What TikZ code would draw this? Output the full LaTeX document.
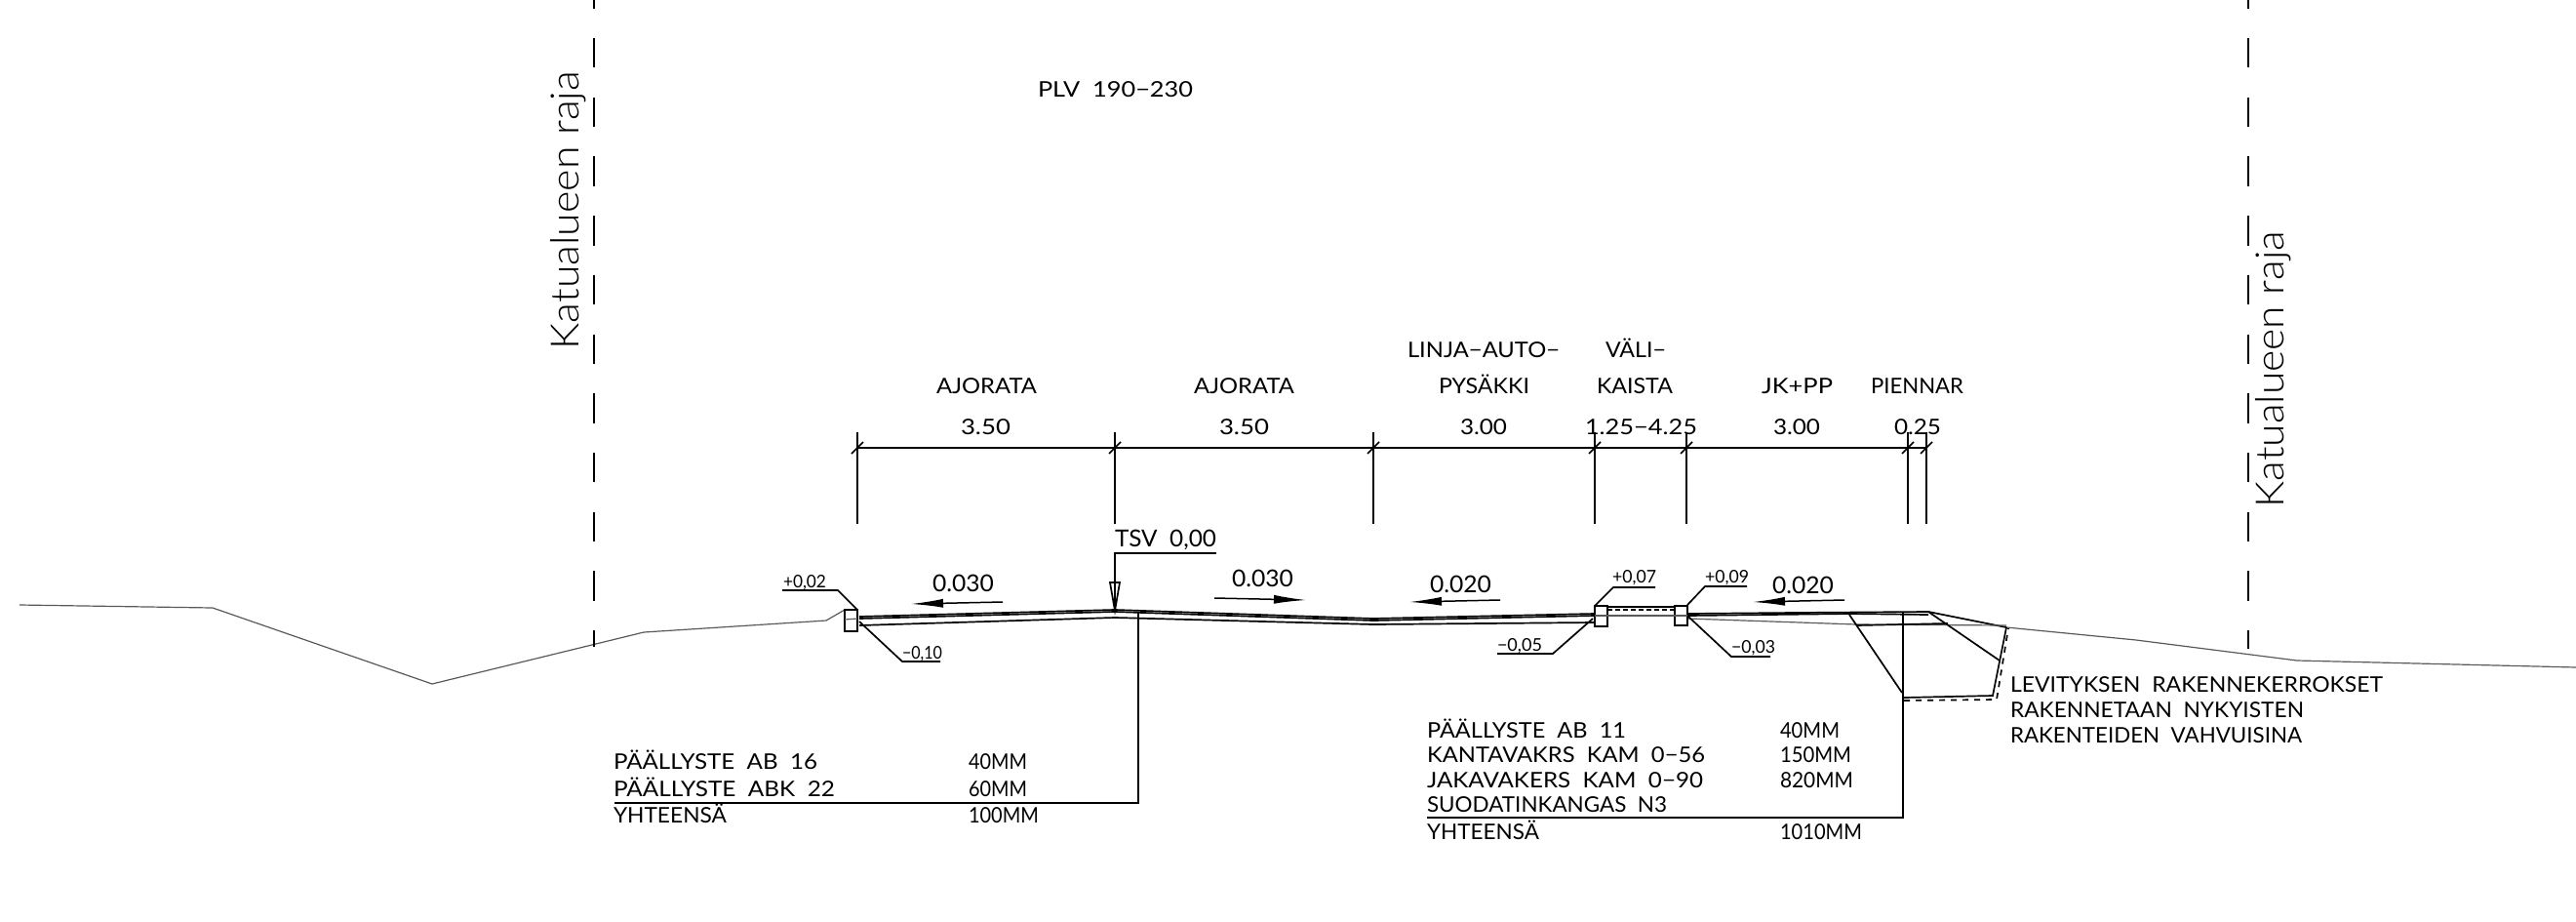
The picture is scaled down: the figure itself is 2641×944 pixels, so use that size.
\documentclass[tikz,border=0pt]{standalone}
\usepackage{fontspec}
\setmainfont{Lato}
\newfontfamily\lightfont{Lato Light}
\usetikzlibrary{arrows.meta}
\newcommand{\FW}[2]{\resizebox{\dimexpr#1pt/2\relax}{\height}{#2}}
\tikzset{
  x=0.5pt,y=-0.5pt,
  cadline/.style={line width=0.85pt,black},
  thinline/.style={line width=0.6pt,black!65},
  txt/.style={anchor=base west,inner sep=0pt,outer sep=0pt,font=\fontsize{11}{11}\selectfont,text=black},
  small/.style={txt,font=\fontsize{9}{9}\selectfont},
  big/.style={txt,font=\fontsize{12}{12}\selectfont},
  boundary/.style={line width=0.85pt,dash pattern=on 15.2pt off 15.15pt,dash phase=10.85pt},
  katu/.style={txt,font=\lightfont\fontsize{20}{20}\selectfont,rotate=90},
  slopehead/.style={-{Latex[length=16.5pt,width=4.5pt]},line width=0.75pt},
}
\begin{document}
\begin{tikzpicture}
\useasboundingbox (0,0) rectangle (2641,944);
% ground
\draw[thinline] (20,620)--(218,623)--(443,701)--(660,648)--(847,636)--(866,625);
\draw[thinline] (2057,643)--(2190,656)--(2355,677)--(2641,684);
\draw[boundary] (609,0)--(609,663);
\draw[boundary] (2305,0)--(2305,665);
% road
\draw[cadline] (881,632)--(1143,625)--(1408,634)--(1635,629);
\draw[cadline] (881,634)--(1143,627)--(1408,636)--(1635,631);
\draw[cadline] (881,641)--(1143,633)--(1408,640)--(1635,638);
\draw[cadline] (1730,629)--(1840,628)--(1977,627)--(2057,643);
\draw[cadline] (1730,631)--(1897,629)--(1977,630);
\draw[thinline] (1730,634)--(1903,640)--(2057,641);
\draw[cadline] (1903,641)--(1997,639);
\draw[cadline] (1896,630)--(1950,710);
\draw[cadline] (1952,715)--(2043,713)--(2057,643);
\draw[cadline,dashed] (1952,718)--(2047,717)--(2059,644);
\draw[cadline] (1977,627)--(2050,677);
% curbs
\draw[cadline,fill=white] (866,625) rectangle (879,647);
\draw[cadline,fill=white] (1635,621) rectangle (1648,642);
\draw[cadline,fill=white] (1717,621) rectangle (1730,641);
\draw[thinline] (866,635)--(879,634);
\draw[thinline] (1635,631)--(1648,631);
\draw[thinline] (1717,631)--(1730,631);
\draw[cadline] (1648,622)--(1717,622);
\draw[cadline,dash pattern=on 2.5pt off 1.5pt] (1648,625)--(1717,625);
\draw[thinline] (1648,631)--(1717,631);
% dimension line
\coordinate (d0) at (879,459);\coordinate (d1) at (1143,459);\coordinate (d2) at (1408,459);
\coordinate (d3) at (1635,459);\coordinate (d4) at (1729,459);\coordinate (d5) at (1956,459);\coordinate (d6) at (1975,459);
\draw[cadline] (d0)--(d6);
\foreach \p in {d0,d1,d2,d3,d4,d5,d6}{
  \draw[cadline] ([yshift=8pt]\p)--([yshift=-39pt]\p);
  \draw[cadline] ([xshift=-3pt,yshift=-3pt]\p)--([xshift=3pt,yshift=3pt]\p);
}
% stack leaders
\draw[cadline] (1167,627)--(1167,823)--(630,823);
\draw[cadline] (1951,627)--(1951,838)--(1463,838);
% TSV
\node[big] (tsv) at (1143,560) {\FW{104}{TSV\ \ 0,00}};
\draw[cadline] (1247,567)--(1143,567)--(1143,626);
\draw[cadline] (1138,597)--(1148,597)--(1143,626)--cycle;
% slopes
\node[big] (s1) at (956,606) {\FW{63}{0.030}};
\node[big] (s2) at (1263,601) {\FW{63}{0.030}};
\node[big] (s3) at (1466,607) {\FW{63}{0.020}};
\node[big] (s4) at (1817,608) {\FW{63}{0.020}};
\draw[slopehead] (1028,617)--(934,619);
\draw[slopehead] (1245,613)--(1339,615);
\draw[slopehead] (1538,615)--(1445,617);
\draw[slopehead] (1891,615)--(1797,617);
% level labels
\node[small] (a) at (803,602) {\FW{44}{+0,02}};
\draw[cadline] (802,605)--(859,605)--(879,625);
\node[small] (b) at (925,675) {\FW{41}{−0,10}};
\draw[cadline] (964,678)--(925,678)--(881,637);
\node[small] (c) at (1653,597) {\FW{45}{+0,07}};
\draw[cadline] (1697,602)--(1654,602)--(1635,621);
\node[small] (d) at (1748,597) {\FW{45}{+0,09}};
\draw[cadline] (1791,601)--(1748,601)--(1730,620);
\node[small] (e) at (1535,667) {\FW{46}{−0,05}};
\draw[cadline] (1535,670)--(1592,670)--(1633,634);
\node[small] (f) at (1775,669) {\FW{45}{−0,03}};
\draw[cadline] (1815,673)--(1775,673)--(1731,632);
% top text
\node[txt] (plv) at (1064,99) {\FW{159}{PLV\ \ 190−230}};
\node[txt] (t1) at (960,403) {\FW{103}{AJORATA}};
\node[txt] (t2) at (1224,403) {\FW{103}{AJORATA}};
\node[txt] (t3) at (1443,366) {\FW{156}{LINJA−AUTO−}};
\node[txt] (t4) at (1646,366) {\FW{62}{VÄLI−}};
\node[txt] (t5) at (1475,403) {\FW{93}{PYSÄKKI}};
\node[txt] (t6) at (1637,403) {\FW{78}{KAISTA}};
\node[txt] (t7) at (1806,403) {\FW{73}{JK+PP}};
\node[txt] (t8) at (1918,403) {\FW{95}{PIENNAR}};
\node[txt] (v1) at (985,445) {\FW{51}{3.50}};
\node[txt] (v2) at (1250,445) {\FW{51}{3.50}};
\node[txt] (v3) at (1497,445) {\FW{48}{3.00}};
\node[txt] (v4) at (1625,445) {\FW{115}{1.25−4.25}};
\node[txt] (v5) at (1818,445) {\FW{48}{3.00}};
\node[txt] (v6) at (1942,445) {\FW{48}{0.25}};
% tables
\node[txt] (l1) at (629,788) {\FW{209}{PÄÄLLYSTE\ \ AB\ \ 16}};
\node[txt] (l2) at (629,816) {\FW{227}{PÄÄLLYSTE\ \ ABK\ \ 22}};
\node[txt] (l3) at (629,843) {\FW{116}{YHTEENSÄ}};
\node[txt] (m1) at (993,788) {\FW{60}{40MM}};
\node[txt] (m2) at (993,816) {\FW{60}{60MM}};
\node[txt] (m3) at (993,843) {\FW{72}{100MM}};
\node[txt] (r1) at (1463,756) {\FW{204}{PÄÄLLYSTE\ \ AB\ \ 11}};
\node[txt] (r2) at (1463,781) {\FW{285}{KANTAVAKRS\ \ KAM\ \ 0−56}};
\node[txt] (r3) at (1463,807) {\FW{283}{JAKAVAKERS\ \ KAM\ \ 0−90}};
\node[txt] (r4) at (1463,832) {\FW{246}{SUODATINKANGAS\ \ N3}};
\node[txt] (r5) at (1463,860) {\FW{115}{YHTEENSÄ}};
\node[txt] (n1) at (1825,756) {\FW{61}{40MM}};
\node[txt] (n2) at (1825,781) {\FW{73}{150MM}};
\node[txt] (n3) at (1825,807) {\FW{75}{820MM}};
\node[txt] (n5) at (1825,860) {\FW{84}{1010MM}};
\node[txt] (q1) at (2061,709) {\FW{382}{LEVITYKSEN\ \ RAKENNEKERROKSET}};
\node[txt] (q2) at (2061,735) {\FW{301}{RAKENNETAAN\ \ NYKYISTEN}};
\node[txt] (q3) at (2061,761) {\FW{299}{RAKENTEIDEN\ \ VAHVUISINA}};
% boundary labels
\node[katu] (kl) at (593,358) {\FW{285}{Katualueen raja}};
\node[katu] (kr) at (2341,520) {\FW{283}{Katualueen raja}};
\end{tikzpicture}
\end{document}
